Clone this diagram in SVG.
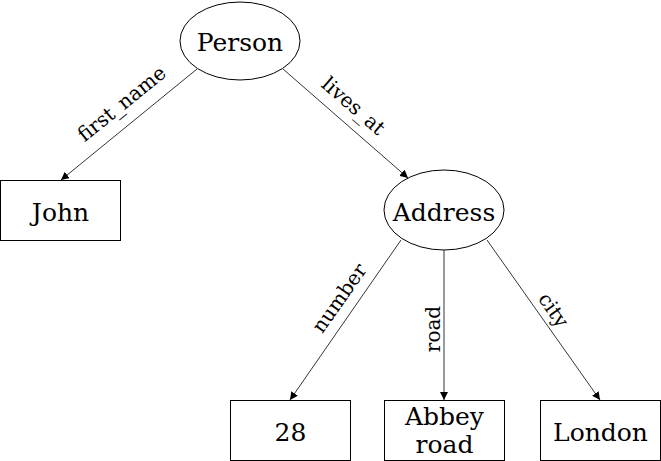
<svg xmlns="http://www.w3.org/2000/svg" width="661" height="461" viewBox="0 0 661 461">
<style>
  .node { fill: #ffffff; stroke: #000000; stroke-width: 1; }
  .ntext { font-family: "DejaVu Serif", serif; font-size: 25px; fill: #000000; text-anchor: middle; }
  .edge { stroke: #000000; stroke-width: 0.8; fill: none; marker-end: url(#arrow); }
  .etext { font-family: "DejaVu Serif", serif; font-size: 20px; fill: #000000; text-anchor: middle; }
</style>
<defs>
  <marker id="arrow" viewBox="0 0 10 10" refX="10" refY="5" markerWidth="8" markerHeight="8" markerUnits="userSpaceOnUse" orient="auto">
    <path d="M0,0 L10,5 L0,10 z" fill="#000000"/>
  </marker>
</defs>
<rect width="661" height="461" fill="#ffffff"/>
<g id="connectors">
  <line class="edge" x1="197" y1="69" x2="61" y2="180"/>
  <line class="edge" x1="283" y1="69" x2="408" y2="178"/>
  <line class="edge" x1="401" y1="240" x2="290" y2="400"/>
  <line class="edge" x1="444" y1="250" x2="444" y2="400"/>
  <line class="edge" x1="487" y1="240" x2="600" y2="400"/>
  <text class="etext" transform="translate(126,109) rotate(-39)">first_name</text>
  <text class="etext" transform="translate(349,111) rotate(41)">lives_at</text>
  <text class="etext" transform="translate(345,302) rotate(-55)">number</text>
  <text class="etext" transform="translate(440,329) rotate(-90)">road</text>
  <text class="etext" transform="translate(548,314) rotate(55)">city</text>
</g>
<g id="person">
  <ellipse class="node" cx="240" cy="41" rx="60" ry="39"/>
  <text class="ntext" x="240" y="51">Person</text>
</g>
<g id="john">
  <rect class="node" x="0.5" y="180.5" width="120" height="60"/>
  <text class="ntext" x="60.5" y="221">John</text>
</g>
<g id="address">
  <ellipse class="node" cx="444" cy="210" rx="60" ry="40"/>
  <text class="ntext" x="444" y="221">Address</text>
</g>
<g id="n28">
  <rect class="node" x="230.5" y="400.5" width="120" height="60"/>
  <text class="ntext" x="290.5" y="441">28</text>
</g>
<g id="abbey">
  <rect class="node" x="384.5" y="400.5" width="120" height="60"/>
  <text class="ntext" x="444.5" y="425">Abbey</text>
  <text class="ntext" x="444.5" y="453">road</text>
</g>
<g id="london">
  <rect class="node" x="540.5" y="400.5" width="120" height="60"/>
  <text class="ntext" x="600.5" y="441">London</text>
</g>
</svg>
